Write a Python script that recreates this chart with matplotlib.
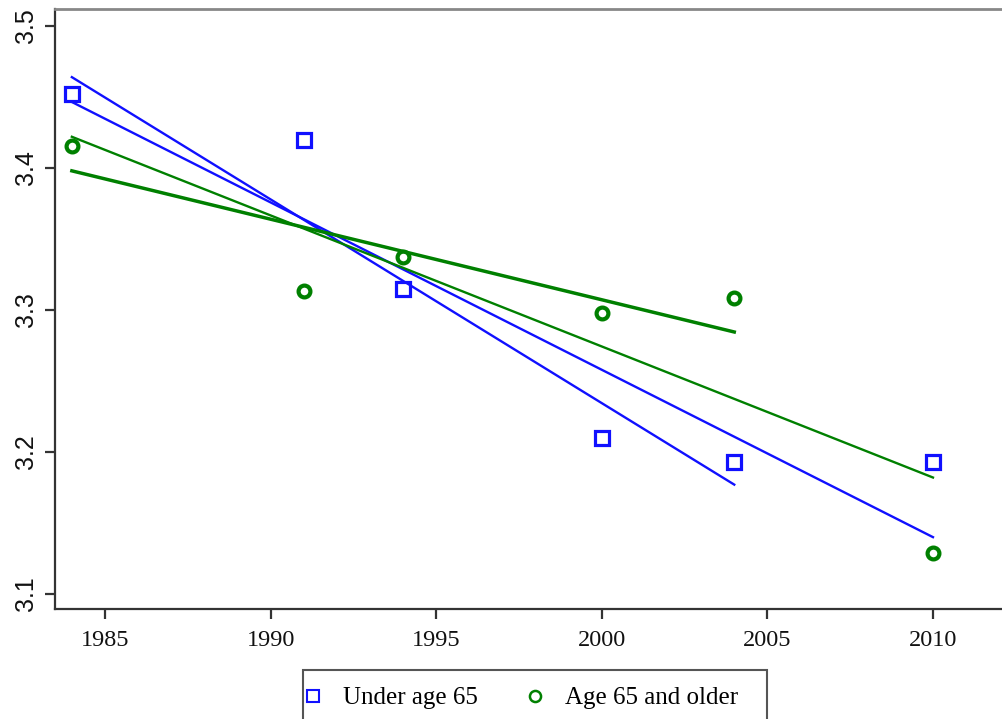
import matplotlib
matplotlib.use("Agg")
import matplotlib.pyplot as plt
from matplotlib.lines import Line2D
from matplotlib.patches import Rectangle

# Survey years and values
years = [1984, 1991, 1994, 2000, 2004, 2010]
under_65 = [3.452, 3.420, 3.315, 3.210, 3.193, 3.193]
age_65_up = [3.4155, 3.3134, 3.3373, 3.2979, 3.3085, 3.129]

# Fitted trend lines (endpoints)
fit_full_x = [1984, 2010]
fit_short_x = [1984, 2004]
under_fit_full = [3.4465, 3.140]
under_fit_short = [3.464, 3.177]
older_fit_full = [3.422, 3.182]
older_fit_short = [3.398, 3.2845]

x_ticks = [1985, 1990, 1995, 2000, 2005, 2010]
y_ticks = [3.1, 3.2, 3.3, 3.4, 3.5]

BLUE = "#1010ff"
GREEN = "#008000"
SPINE = "#333333"
W, H = 1003, 719

fig = plt.figure(figsize=(W / 100, H / 100), dpi=100)
ax = fig.add_axes([0.0548, 0.153, 0.952, 0.8345])

ax.plot(fit_full_x, under_fit_full, color=BLUE, lw=1.7, zorder=2)
ax.plot(fit_short_x, under_fit_short, color=BLUE, lw=1.7, zorder=2)
ax.plot(fit_full_x, older_fit_full, color=GREEN, lw=1.7, zorder=2)
ax.plot(fit_short_x, older_fit_short, color=GREEN, lw=2.5, zorder=2)

ax.plot(years, under_65, ls="none", marker="s", ms=10.5, mfc="none",
        mec=BLUE, mew=2.3, zorder=3)
ax.plot(years, age_65_up, ls="none", marker="o", ms=8.5, mfc="none",
        mec=GREEN, mew=3.0, zorder=3)

ax.set_xlim(1983.49, 2012.32)
ax.set_ylim(3.0894, 3.512)
ax.set_xticks(x_ticks)
ax.set_yticks(y_ticks)
ax.set_xticklabels([str(t) for t in x_ticks], fontfamily="Liberation Serif", fontsize=17.5)
ax.set_yticklabels([f"{t:.1f}" for t in y_ticks], fontfamily="Liberation Sans",
                   fontsize=18, rotation=90, va="center")

for side in ["left", "bottom"]:
    ax.spines[side].set_color(SPINE)
    ax.spines[side].set_linewidth(1.6)
ax.spines["top"].set_color("#888888")
ax.spines["top"].set_linewidth(2.0)
ax.spines["right"].set_visible(False)
ax.tick_params(axis="both", direction="out", length=7, width=1.6, color=SPINE,
               labelcolor="#111111")
ax.tick_params(axis="x", pad=8)
ax.tick_params(axis="y", pad=5)

# legend entries, with the frame drawn separately (it runs off the bottom edge)
handles = [
    Line2D([], [], ls="none", marker="s", ms=8, mfc="none", mec=BLUE, mew=1.5),
    Line2D([], [], ls="none", marker="o", ms=8, mfc="none", mec=GREEN, mew=1.8),
]
fig.legend(handles, ["Under age 65", "Age 65 and older"], ncol=2,
           loc="center left", bbox_to_anchor=(305.5 / W, 1 - 698 / H),
           prop={"family": "Liberation Serif", "size": 18},
           frameon=False, handlelength=0.6, handletextpad=0.9,
           columnspacing=2.0, borderpad=0, borderaxespad=0)
fig.patches.append(Rectangle((303 / W, -0.02), 464 / W, 0.02 + (1 - 670 / H),
                             transform=fig.transFigure, fill=False,
                             edgecolor="#555555", linewidth=1.5))

fig.savefig("out.png", dpi=100)
